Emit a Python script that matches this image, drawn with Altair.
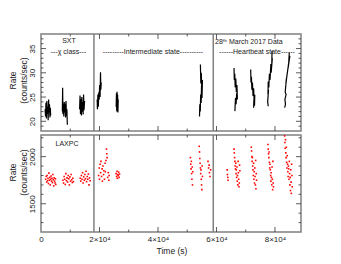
import altair as alt
import pandas as pd

# ---------------- SXT light curve (time [s], rate [counts/s]) ----------------
sxt_seg1 = [(1400, 22.5), (1550, 21.0), (1700, 23.8), (1850, 20.6), (2000, 24.2), (2150, 21.5),
            (2300, 23.0), (2450, 20.2), (2600, 24.5), (2750, 21.8), (2900, 23.5), (3050, 20.8),
            (3200, 22.8), (3300, 21.2)]
sxt_seg2 = [(7300, 22.0), (7400, 26.9), (7500, 21.5), (7650, 23.5), (7800, 21.0), (7950, 24.0),
            (8100, 21.8), (8250, 23.6), (8400, 20.8), (8550, 24.2), (8700, 21.2), (8850, 22.5),
            (9000, 19.3)]
sxt_seg3 = [(13200, 22.5), (13350, 25.3), (13500, 21.5), (13650, 24.6), (13800, 21.2), (13950, 25.0),
            (14100, 22.0), (14250, 24.0), (14400, 21.4), (14550, 25.5), (14700, 22.3), (14900, 24.2)]
sxt_seg4 = [(19200, 24.5), (19300, 22.5), (19450, 25.5), (19600, 23.0), (19750, 26.0), (19900, 24.5),
            (20050, 27.5), (20200, 25.0), (20350, 30.1), (20450, 26.5), (20600, 28.0)]
sxt_seg5 = [(25700, 23.0), (25800, 25.8), (25900, 22.0), (26000, 26.1), (26100, 22.5), (26200, 25.5),
            (26300, 21.8), (26400, 24.5)]
sxt_seg6 = [(54200, 21.0), (54300, 23.5), (54450, 22.0), (54600, 25.5), (54750, 23.8), (54900, 27.5),
            (55050, 24.8), (55200, 28.5), (55000, 26.5), (54800, 30.0), (54650, 27.8), (54500, 31.7)]
sxt_seg7 = [(66000, 31.0), (66100, 28.5), (66250, 29.8), (66400, 27.0), (66600, 28.8), (66800, 26.0),
            (67000, 27.5), (67150, 24.5), (66900, 25.8), (66700, 23.5), (66500, 24.8), (66300, 22.1)]
sxt_seg8 = [(71700, 30.7), (71800, 28.0), (71950, 29.2), (72100, 26.5), (72300, 28.0), (72500, 25.2),
            (72700, 26.8), (72900, 24.0), (73100, 25.5), (73000, 23.2), (72800, 24.5), (72700, 22.8)]
sxt_seg9 = [(79000, 34.5), (78900, 31.5), (79100, 33.0), (78700, 30.0), (78600, 31.8), (78300, 28.5),
            (78100, 29.8), (77900, 27.0), (77700, 28.2), (77600, 25.5), (77800, 26.5), (77500, 24.0),
            (77700, 23.1)]
sxt_seg10 = [(84900, 34.2), (84700, 32.0), (85100, 33.5), (84500, 31.0), (84800, 32.5), (84300, 30.3),
             (84000, 29.0), (83700, 27.5), (83900, 28.8), (83500, 26.0), (83800, 25.5), (83400, 24.5),
             (83600, 23.5), (83300, 22.8)]
sxt_segments = [sxt_seg1, sxt_seg2, sxt_seg3, sxt_seg4, sxt_seg5,
                sxt_seg6, sxt_seg7, sxt_seg8, sxt_seg9, sxt_seg10]

# ---------------- LAXPC light curve (time [s], rate [counts/s]) ----------------
lax_t1 = [1600, 1800, 1950, 2100, 2250, 2400, 2550, 2700, 2850, 3000, 3150, 3300, 3450, 3600, 3750,
          3900, 4050, 4200, 4350, 4500, 4650, 4800, 4950, 5050]
lax_c1 = [1760, 1790, 1730, 1800, 1745, 1770, 1715, 1825, 1750, 1780, 1700, 1760, 1795, 1740, 1770,
          1725, 1810, 1755, 1690, 1775, 1740, 1720, 1765, 1705]
lax_t2 = [7500, 7700, 7900, 8100, 8300, 8500, 8700, 8900, 9100, 9300, 9500, 9700, 9900, 10100,
          10300, 10500, 10700, 10900, 11100]
lax_c2 = [1750, 1720, 1790, 1760, 1705, 1820, 1745, 1775, 1730, 1800, 1765, 1700, 1785, 1740,
          1810, 1755, 1725, 1770, 1735]
lax_t3 = [13400, 13600, 13800, 14000, 14200, 14400, 14600, 14800, 15000, 15200, 15400, 15600,
          15800, 16000, 16200, 16400, 16600, 16800]
lax_c3 = [1770, 1740, 1800, 1760, 1830, 1720, 1785, 1750, 1810, 1765, 1845, 1735, 1790, 1760,
          1815, 1700, 1775, 1745]
lax_t4 = [19700, 19900, 20000, 20200, 20400, 20500, 20700, 20900, 21000, 21200, 21400, 21500,
          21700, 21900, 22000, 22200, 22400, 22500, 22600, 22800, 23000, 23200, 23300]
lax_c4 = [1800, 1880, 1760, 1920, 1830, 1950, 1790, 1870, 1740, 1900, 1810, 1850, 1760, 1930,
          1840, 1960, 2080, 2030, 1990, 1780, 1830, 1750, 1800]
lax_t5 = [25700, 25850, 26000, 26100, 26250, 26400, 26550, 26700, 26850]
lax_c5 = [1820, 1790, 1845, 1770, 1810, 1800, 1835, 1780, 1815]
lax_t6 = [51100, 51200, 51300, 51400, 51500, 51600, 51700, 51800, 51900,
          54100, 54200, 54300, 54400, 54500, 54600, 54700, 54800, 54900, 55000, 55100, 55200,
          57100, 57300, 57500, 57600, 57800, 58000]
lax_c6 = [1990, 1920, 1870, 1950, 1820, 1760, 1890, 1700, 1840,
          2110, 2050, 1980, 1930, 1880, 1820, 1860, 1760, 1700, 1650, 1900, 1790,
          1950, 1880, 1910, 1830, 1790, 1860]
lax_t7 = [63650, 63750, 63850, 63950,
          66000, 66100, 66200, 66300, 66400, 66500, 66600, 66700, 66800, 66900, 67000, 67100,
          67200, 67300, 67400, 67500, 67600, 67700, 67800, 67900, 68000]
lax_c7 = [1860, 1810, 1780, 1750,
          2080, 2040, 1990, 1950, 1900, 1870, 1930, 1820, 1860, 1780, 1890, 1740,
          1800, 1700, 1950, 1830, 1760, 1680, 1720, 1910, 1850]
lax_t8 = [71900, 72000, 72100, 72200, 72300, 72400, 72500, 72600, 72700, 72800, 72900, 73000,
          73100, 73200, 73300, 73400, 73500, 73600, 73700]
lax_c8 = [2100, 2060, 2000, 1950, 1990, 1900, 1860, 1800, 1930, 1760, 1840, 1720,
          1880, 1790, 1700, 1960, 1660, 1820, 1750]
lax_t9 = [77600, 77700, 77800, 77900, 78000, 78100, 78200, 78300, 78400, 78500, 78600, 78700,
          78800, 78900, 79000, 79100, 79200, 79300, 79400, 79500]
lax_c9 = [2130, 2080, 2030, 1990, 2050, 1940, 1880, 1920, 1860, 1800, 1740, 1830,
          1780, 1700, 1890, 1760, 1650, 1950, 1720, 1680]
lax_t10 = [83300, 83400, 83500, 83600, 83700, 83800, 83900, 84000, 84100, 84200, 84300, 84400,
           84500, 84600, 84700, 84800, 84900, 85000, 85100, 85200, 85300, 85400, 85500, 85600,
           85700, 85800, 85900]
lax_c10 = [2220, 2150, 2090, 2180, 2040, 1990, 2100, 1940, 1880, 2010, 1920, 1840,
           1790, 1900, 1870, 1760, 1950, 1820, 1700, 1780, 1640, 1860, 1730, 1610,
           1920, 1800, 1680]
lax_times = [lax_t1, lax_t2, lax_t3, lax_t4, lax_t5, lax_t6, lax_t7, lax_t8, lax_t9, lax_t10]
lax_counts = [lax_c1, lax_c2, lax_c3, lax_c4, lax_c5, lax_c6, lax_c7, lax_c8, lax_c9, lax_c10]

# state boundaries (s)
divider_times = [18100, 58900]

# axis ticks / labels
x_label_vals = [0, 20000, 40000, 60000, 80000]
x_minor_vals = [10000, 30000, 50000, 70000]
top_y_label_vals = [20, 25, 30, 35]
top_y_minor_vals = [19, 21, 22, 23, 24, 26, 27, 28, 29, 31, 32, 33, 34, 36, 37]
bot_y_label_vals = [1500, 2000]
bot_y_minor_vals = [1300, 1400, 1600, 1700, 1800, 1900, 2100, 2200]
y_title_lines = ["Rate", "(counts/sec)"]
x_title = "Time (s)"

# ---------------- build tables ----------------
rows = []
for k, seg in enumerate(sxt_segments):
    for i, (t, r) in enumerate(seg):
        rows.append({"t": t, "r": r, "seg": k, "i": i})
sxt_df = pd.DataFrame(rows)

lrows = []
for ts, cs in zip(lax_times, lax_counts):
    for t, c in zip(ts, cs):
        lrows.append({"t": t, "c": c})
lax_df = pd.DataFrame(lrows)

W, H = 260, 97
FONT = "Liberation Sans"
FRAME = "#808080"
TICK = "#333333"
TXT = "#222222"
xs = alt.Scale(domain=[0, 88900], nice=False, zero=False)
y1s = alt.Scale(domain=[18, 38], nice=False, zero=False)
y2s = alt.Scale(domain=[1200, 2230], nice=False, zero=False)


def y_axis(vals):
    return alt.Axis(values=vals, title=None, format="d", ticks=False, domain=False,
                    grid=False, labelAngle=270, labelAlign="center", labelBaseline="bottom",
                    labelPadding=5, labelFontSize=8, labelFont=FONT, labelColor=TXT,
                    labelOverlap=False, labelFlush=False)


X_AXIS = alt.Axis(values=x_label_vals, title=None, ticks=False, domain=False, grid=False,
                  labelExpr="datum.value == 0 ? '0' : (datum.value / 10000) + '×10⁴'",
                  labelFontSize=8, labelFont=FONT, labelColor=TXT, labelPadding=3,
                  labelFlush=False, labelOverlap=False)
TOP_Y = y_axis(top_y_label_vals)
BOT_Y = y_axis(bot_y_label_vals)


def tick_layers(yvals_major, yvals_minor, yscale, yaxis, xaxis):
    out = []
    for vals, ln in [(yvals_major, 5), (yvals_minor, 2.5)]:
        d = pd.DataFrame({"v": vals})
        out.append(alt.Chart(d).mark_rule(color=TICK, strokeWidth=0.8).encode(
            y=alt.Y("v:Q", scale=yscale, axis=yaxis), x=alt.value(0), x2=alt.value(ln)))
        out.append(alt.Chart(d).mark_rule(color=TICK, strokeWidth=0.8).encode(
            y=alt.Y("v:Q", scale=yscale, axis=yaxis), x=alt.value(W - ln), x2=alt.value(W)))
    for vals, ln in [(x_label_vals[1:], 5), (x_minor_vals, 2.5)]:
        d = pd.DataFrame({"v": vals})
        out.append(alt.Chart(d).mark_rule(color=TICK, strokeWidth=0.8).encode(
            x=alt.X("v:Q", scale=xs, axis=xaxis), y=alt.value(0), y2=alt.value(ln)))
        out.append(alt.Chart(d).mark_rule(color=TICK, strokeWidth=0.8).encode(
            x=alt.X("v:Q", scale=xs, axis=xaxis), y=alt.value(H - ln), y2=alt.value(H)))
    return out


def dividers(xaxis):
    return alt.Chart(pd.DataFrame({"t": divider_times})).mark_rule(
        color=FRAME, strokeWidth=1.5).encode(x=alt.X("t:Q", scale=xs, axis=xaxis))


def label(txt, px, py, align="center", size=7, angle=0):
    return alt.Chart(pd.DataFrame({"label": [txt]})).mark_text(
        font=FONT, fontSize=size, color=TXT, align=align, baseline="middle",
        angle=angle).encode(text="label:N", x=alt.value(px), y=alt.value(py))


def y_title(py):
    return [label(y_title_lines[0], -28, py, size=8.5, angle=270),
            label(y_title_lines[1], -17, py, size=8.5, angle=270)]


top_line = alt.Chart(sxt_df).mark_line(color="black", strokeWidth=1.2).encode(
    x=alt.X("t:Q", scale=xs, axis=None),
    y=alt.Y("r:Q", scale=y1s, axis=TOP_Y),
    detail="seg:N", order="i:Q")

top = alt.layer(
    top_line, dividers(None),
    *tick_layers(top_y_label_vals, top_y_minor_vals, y1s, TOP_Y, None),
    label("SXT", 28, 6.5),
    label("---χ class---", 27.5, 18),
    label("---------Intermediate state----------", 112, 18),
    label("28ᵗʰ March 2017 Data", 174, 7.5, align="left"),
    label("------Heartbeat state------", 216, 18),
    *y_title(46.5),
).properties(width=W, height=H)

bot_pts = alt.Chart(lax_df).mark_square(color="red", size=2.5, opacity=1).encode(
    x=alt.X("t:Q", scale=xs, axis=X_AXIS),
    y=alt.Y("c:Q", scale=y2s, axis=BOT_Y))

bottom = alt.layer(
    bot_pts, dividers(X_AXIS),
    *tick_layers(bot_y_label_vals, bot_y_minor_vals, y2s, BOT_Y, X_AXIS),
    label("LAXPC", 26, 9),
    *y_title(37.5),
    label(x_title, 131, H + 18.5, size=8.5),
).properties(width=W, height=H)

chart = alt.vconcat(top, bottom, spacing=0).properties(
    padding={"left": 0, "top": 24, "right": 5, "bottom": 0}
).configure_view(stroke=FRAME, strokeWidth=1.5)

chart.save("out.html", embed_options={"renderer": "svg", "actions": False})
